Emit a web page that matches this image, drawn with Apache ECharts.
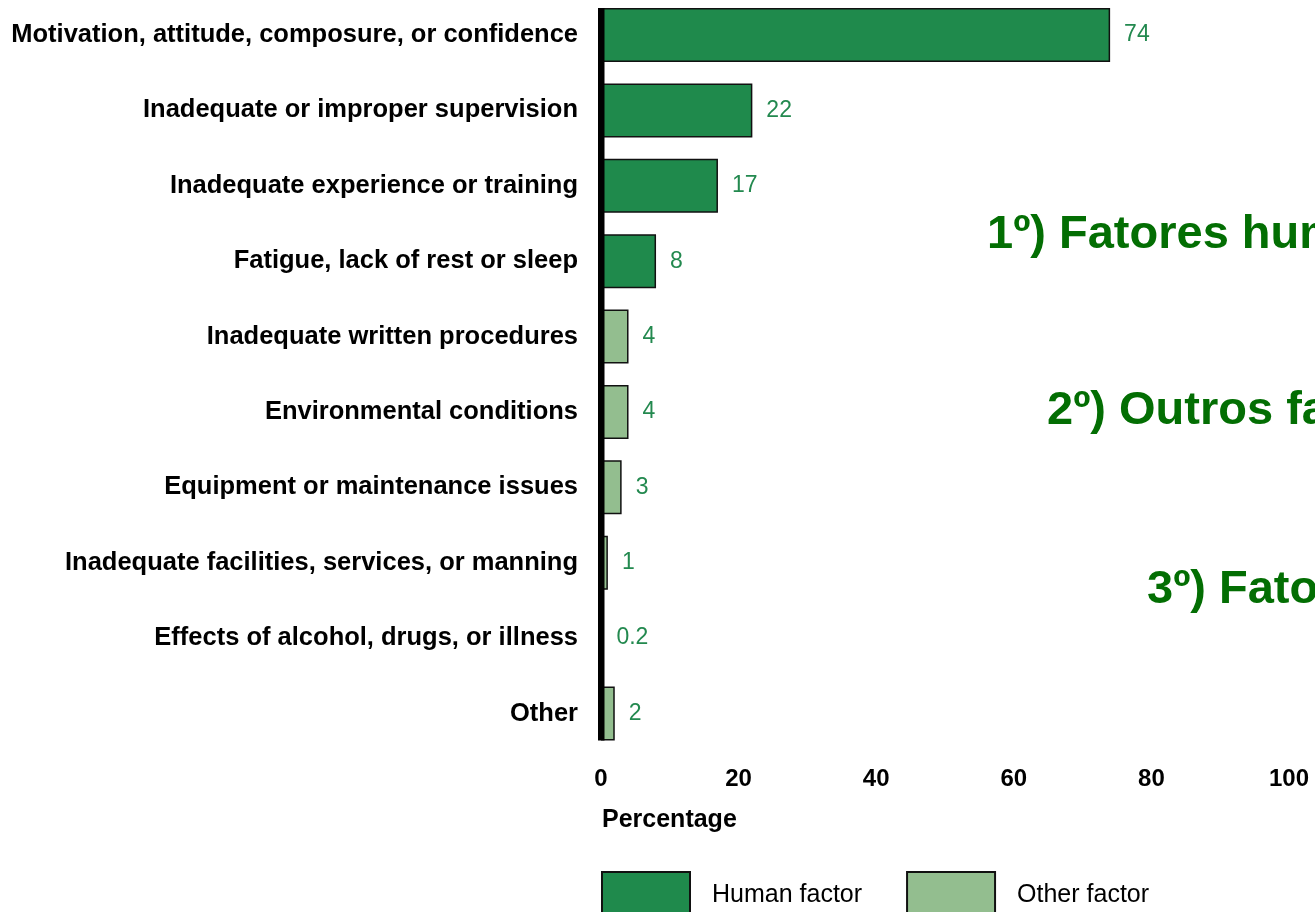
<!DOCTYPE html>
<html>
<head>
<meta charset="utf-8">
<script src="https://cdn.jsdelivr.net/npm/echarts@6/dist/echarts.min.js"></script>
<style>
html,body{margin:0;padding:0;background:#fff;overflow:hidden;}
#chart{width:1315px;height:932px;margin-top:-20px;}
</style>
</head>
<body>
<div id="chart"></div>
<script>
const categories = [
  'Motivation, attitude, composure, or confidence',
  'Inadequate or improper supervision',
  'Inadequate experience or training',
  'Fatigue, lack of rest or sleep',
  'Inadequate written procedures',
  'Environmental conditions',
  'Equipment or maintenance issues',
  'Inadequate facilities, services, or manning',
  'Effects of alcohol, drugs, or illness',
  'Other'
];
const humanValues = [74, 22, 17, 8, null, null, null, null, null, null];
const otherValues = [null, null, null, null, 4, 4, 3, 1, 0.2, 2];
const xTicks = [0, 20, 40, 60, 80, 100];
const seriesNames = ['Human factor', 'Other factor'];
const notes = ['1º) Fatores humanos', '2º) Outros fatores', '3º) Fatores organizacionais'];

const FONT = '"Liberation Sans", Arial, sans-serif';
const DARK = '#1f8a4c';
const LIGHT = '#93be8f';
const LABEL_GREEN = '#23894f';
const BAR_W = 54;
const OFF = 20; // container is shifted up by this many px

const chart = echarts.init(document.getElementById('chart'), null, {renderer: 'canvas'});

function barSeries(name, data, color) {
  return {
    name: name,
    type: 'bar',
    stack: 'all',
    data: data,
    barWidth: BAR_W,
    itemStyle: {color: color, borderColor: '#111', borderWidth: 1.5},
    label: {
      show: true, position: 'right', distance: 14,
      fontFamily: FONT, fontSize: 23, color: LABEL_GREEN,
      formatter: p => (p.value == null ? '' : String(p.value))
    },
    emphasis: {disabled: true},
    animation: false
  };
}

const option = {
  animation: false,
  backgroundColor: '#fff',
  textStyle: {fontFamily: FONT},
  grid: {left: 601, right: 26, top: OFF - 2.7, bottom: 160.8, containLabel: false},
  title: {
    text: 'Percentage', left: 602, top: 808 + OFF, padding: 0,
    textStyle: {fontFamily: FONT, fontSize: 25, fontWeight: 'bold', color: '#000'}
  },
  legend: {
    data: seriesNames,
    left: 601, top: 871 + OFF, padding: 0,
    itemWidth: 88, itemHeight: 46, itemGap: 44,
    selectedMode: false,
    icon: 'rect',
    textStyle: {fontFamily: FONT, fontSize: 25, color: '#000', padding: [0, 0, 0, 17]}
  },
  xAxis: {
    type: 'value', min: xTicks[0], max: xTicks[xTicks.length - 1], interval: xTicks[1] - xTicks[0],
    axisLine: {show: false}, axisTick: {show: false}, splitLine: {show: false},
    axisLabel: {fontFamily: FONT, fontSize: 24, fontWeight: 'bold', color: '#000', margin: 16}
  },
  yAxis: {
    type: 'category', data: categories, inverse: true,
    axisLine: {show: false}, axisTick: {show: false},
    axisLabel: {fontFamily: FONT, fontSize: 25.5, fontWeight: 'bold', color: '#000', margin: 23}
  },
  series: [
    barSeries(seriesNames[0], humanValues, DARK),
    barSeries(seriesNames[1], otherValues, LIGHT)
  ]
};
chart.setOption(option);

const x0 = chart.convertToPixel({xAxisIndex: 0}, 0);
const yTop = chart.convertToPixel({yAxisIndex: 0}, 0) - BAR_W / 2;
const yBot = chart.convertToPixel({yAxisIndex: 0}, categories.length - 1) + BAR_W / 2;

const noteStyle = {fontFamily: FONT, fontSize: 47, fontWeight: 'bold', fill: '#036e03'};
chart.setOption({
  graphic: [
    {type: 'rect', z: 100, shape: {x: x0 - 3, y: yTop, width: 6.5, height: yBot - yTop}, style: {fill: '#000'}},
    {type: 'text', z: 100, left: 987, top: 212 + OFF, style: Object.assign({text: notes[0]}, noteStyle)},
    {type: 'text', z: 100, left: 1047, top: 388 + OFF, style: Object.assign({text: notes[1]}, noteStyle)},
    {type: 'text', z: 100, left: 1147, top: 567 + OFF, style: Object.assign({text: notes[2]}, noteStyle)}
  ]
});
</script>
</body>
</html>
